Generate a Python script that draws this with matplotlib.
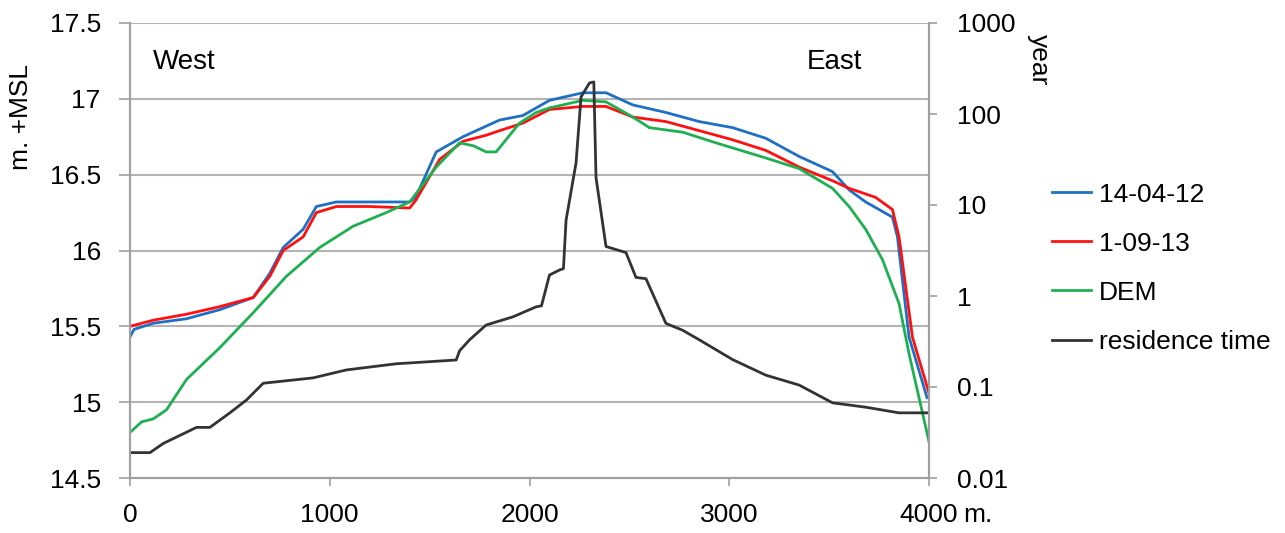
import matplotlib.pyplot as plt
import numpy as np

plt.rcParams['font.family'] = ['Liberation Sans', 'DejaVu Sans']

# elevation profiles (m +MSL) along the transect (m)
x_blue = [0, 20, 115, 283, 450, 617, 700, 767, 867, 933, 1033, 1200, 1400, 1430,
          1533, 1667, 1783, 1850, 1967, 2100, 2267, 2383, 2517, 2683, 2850, 3017,
          3183, 3350, 3517, 3600, 3683, 3817, 3842, 3900, 3990]
y_blue = [15.43, 15.48, 15.52, 15.55, 15.61, 15.69, 15.85, 16.02, 16.14, 16.29, 16.32,
          16.32, 16.32, 16.35, 16.65, 16.75, 16.82, 16.86, 16.89, 16.99, 17.04, 17.04,
          16.96, 16.91, 16.85, 16.81, 16.74, 16.62, 16.52, 16.40, 16.32, 16.22, 16.09,
          15.43, 15.03]

x_red = [0, 115, 283, 450, 617, 700, 767, 867, 933, 1033, 1200, 1400, 1430, 1550,
         1667, 1783, 1850, 1967, 2100, 2267, 2383, 2517, 2683, 2850, 3017, 3183,
         3350, 3517, 3600, 3733, 3817, 3850, 3917, 4000]
y_red = [15.50, 15.54, 15.58, 15.63, 15.69, 15.83, 16.00, 16.09, 16.25, 16.29, 16.29,
         16.28, 16.33, 16.60, 16.72, 16.76, 16.79, 16.84, 16.93, 16.95, 16.95, 16.88,
         16.85, 16.79, 16.73, 16.66, 16.55, 16.46, 16.41, 16.35, 16.27, 16.09, 15.43,
         15.06]

x_dem = [0, 58, 117, 183, 283, 450, 617, 783, 950, 1117, 1283, 1400, 1533, 1650,
         1720, 1783, 1833, 1950, 2033, 2100, 2267, 2383, 2517, 2600, 2767, 2933,
         3183, 3350, 3517, 3600, 3683, 3767, 3850, 3900, 4000]
y_dem = [14.80, 14.87, 14.89, 14.95, 15.15, 15.36, 15.59, 15.83, 16.02, 16.16, 16.25,
         16.32, 16.55, 16.71, 16.69, 16.65, 16.65, 16.84, 16.91, 16.94, 16.99, 16.98,
         16.88, 16.81, 16.78, 16.71, 16.61, 16.54, 16.41, 16.29, 16.14, 15.94, 15.65,
         15.32, 14.74]

# residence time (year), right log axis
x_res = [0, 100, 167, 333, 400, 500, 583, 667, 917, 1083, 1333, 1633, 1650, 1700,
         1783, 1917, 2033, 2060, 2100, 2150, 2170, 2183, 2233, 2258, 2300, 2322,
         2333, 2383, 2483, 2533, 2583, 2683, 2767, 2850, 3017, 3183, 3350, 3517,
         3683, 3850, 4000]
y_res = [0.019, 0.019, 0.024, 0.036, 0.036, 0.052, 0.072, 0.11, 0.126, 0.154, 0.18,
         0.198, 0.25, 0.33, 0.48, 0.59, 0.76, 0.78, 1.7, 1.93, 2.0, 6.8, 29, 154,
         219, 225, 20, 3.5, 3.0, 1.6, 1.55, 0.50, 0.42, 0.33, 0.20, 0.135, 0.105,
         0.067, 0.06, 0.052, 0.052]

left_ticks = [14.5, 15, 15.5, 16, 16.5, 17, 17.5]
left_labels = ['14.5', '15', '15.5', '16', '16.5', '17', '17.5']
right_ticks = [0.01, 0.1, 1, 10, 100, 1000]
right_labels = ['0.01', '0.1', '1', '10', '100', '1000']
x_ticks = [0, 1000, 2000, 3000, 4000]

fs = 19
grid_col = '#b4b4b4'
tick_col = '#a0a0a0'

fig = plt.figure(figsize=(12.85, 5.33), dpi=100)
ax = fig.add_axes([130 / 1285, 1 - 478 / 533, (929 - 130) / 1285, (478 - 23) / 533])
ax2 = ax.twinx()

l1, = ax.plot(x_blue, y_blue, color='#1f6fc4', lw=2.0, label='14-04-12')
l2, = ax.plot(x_red, y_red, color='#ff1010', lw=2.0, label='1-09-13')
l3, = ax.plot(x_dem, y_dem, color='#1eb050', lw=2.0, label='DEM')
l4, = ax2.plot(x_res, y_res, color='#333333', lw=2.0, label='residence time')

ax.set_xlim(0, 4000)
ax.set_ylim(14.5, 17.5)
ax.set_xticks(x_ticks)
ax.set_xticklabels([str(t) for t in x_ticks])
ax.set_yticks(left_ticks)
ax.set_yticklabels(left_labels)
ax.grid(axis='y', color=grid_col, lw=1.5)
ax.set_axisbelow(True)
ax.tick_params(axis='y', length=8, width=1.2, color=tick_col, pad=13, labelsize=fs)
ax.tick_params(axis='x', length=6, width=1.2, color=tick_col, direction='out',
               pad=12, labelsize=fs)

ax2.set_yscale('log')
ax2.set_ylim(0.01, 1000)
ax2.set_yticks(right_ticks)
ax2.set_yticklabels(right_labels)
ax2.minorticks_off()
ax2.tick_params(axis='y', length=6, width=1.2, color=tick_col, pad=14, labelsize=fs)

for a in (ax, ax2):
    for s in a.spines.values():
        s.set_color(tick_col)
        s.set_linewidth(1.5)
ax.spines['top'].set_visible(False)
ax2.spines['top'].set_visible(False)

ax.set_ylabel('m. +MSL', fontsize=fs)
ax.yaxis.set_label_coords(-0.121, 0.793)
ax.text(1.137, 0.919, 'year', transform=ax.transAxes, rotation=-90, fontsize=fs,
        va='center', ha='center')
ax.text(1.0425, -0.081, 'm.', transform=ax.transAxes, fontsize=fs, va='center', ha='left')

ax.text(0.029, 0.915, 'West', transform=ax.transAxes, fontsize=fs + 1, va='center')
ax.text(0.847, 0.915, 'East', transform=ax.transAxes, fontsize=fs + 1, va='center')

fig.legend(handles=[l1, l2, l3, l4], loc='upper left',
           bbox_to_anchor=(1041 / 1285, 1 - 172 / 533), frameon=False,
           fontsize=fs, handlelength=1.5, handletextpad=0.3, labelspacing=0.95,
           borderaxespad=0)

fig.savefig('out.png', dpi=100)
